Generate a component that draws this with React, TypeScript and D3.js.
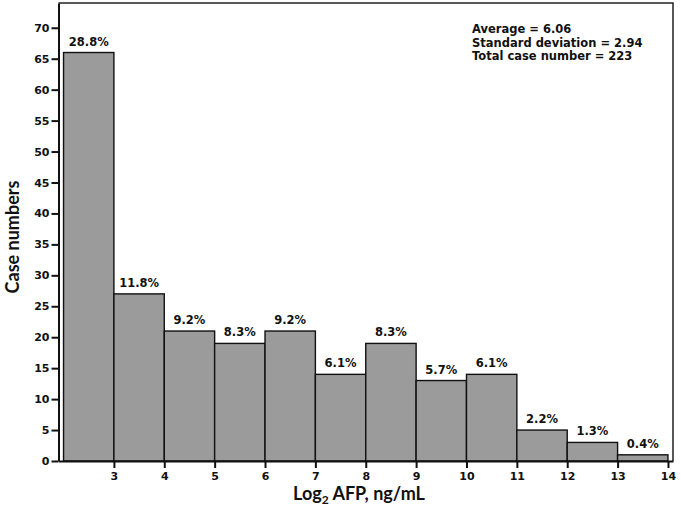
import { useEffect, useRef } from 'react';
import * as d3 from 'd3';

// bins of log2 AFP (lower edges), one unit wide
const binStarts = [2, 3, 4, 5, 6, 7, 8, 9, 10, 11, 12, 13];
const caseCounts = [66, 27, 21, 19, 21, 14, 19, 13, 14, 5, 3, 1];
const percentLabels = ['28.8%', '11.8%', '9.2%', '8.3%', '9.2%', '6.1%', '8.3%', '5.7%', '6.1%', '2.2%', '1.3%', '0.4%'];
const xTicks = [3, 4, 5, 6, 7, 8, 9, 10, 11, 12, 13, 14];
const yTicks = [0, 5, 10, 15, 20, 25, 30, 35, 40, 45, 50, 55, 60, 65, 70];
const statsLines = ['Average = 6.06', 'Standard deviation = 2.94', 'Total case number = 223'];

const WIDTH = 681;
const HEIGHT = 516;
const tickFont = '"DejaVu Sans", sans-serif';
const titleFont = 'Lato, "Open Sans", sans-serif';

export default function App() {
  const svgRef = useRef<SVGSVGElement>(null);

  useEffect(() => {
    if (!svgRef.current) return;
    const svg = d3.select(svgRef.current);
    svg.selectAll('*').remove();

    const left = 58.5, right = 673, top = 3, bottom = 461;

    const x = d3.scaleLinear().domain([1.9, 14.1]).range([left, right]);
    const y = d3.scaleLinear().domain([0, 74]).range([bottom, top]);

    const bins = binStarts.map((b, i) => ({ x0: b, x1: b + 1, count: caseCounts[i], label: percentLabels[i] }));

    // bars
    svg.append('g')
      .selectAll('rect')
      .data(bins)
      .join('rect')
      .attr('x', d => x(d.x0))
      .attr('y', d => y(d.count))
      .attr('width', d => x(d.x1) - x(d.x0))
      .attr('height', d => y(0) - y(d.count))
      .attr('fill', '#9b9b9b')
      .attr('stroke', '#111')
      .attr('stroke-width', 1.4);

    // percent labels
    svg.append('g')
      .selectAll('text')
      .data(bins)
      .join('text')
      .attr('x', d => (x(d.x0) + x(d.x1)) / 2)
      .attr('y', d => y(d.count) - 7)
      .attr('text-anchor', 'middle')
      .style('font-family', tickFont)
      .style('font-size', '11.5px')
      .style('font-weight', 'bold')
      .style('fill', '#111')
      .text(d => d.label);

    // frame (top and right)
    svg.append('path')
      .attr('d', `M${left},${top}H${right}V${bottom}`)
      .attr('fill', 'none')
      .attr('stroke', '#222')
      .attr('stroke-width', 1.5);

    // y axis
    const yAxis = svg.append('g')
      .attr('transform', `translate(${left},0)`)
      .call(d3.axisLeft(y).tickValues(yTicks).tickSize(7).tickPadding(2).tickSizeOuter(0));
    yAxis.select('.domain').attr('stroke', '#111').attr('stroke-width', 2);
    yAxis.selectAll('.tick line').attr('stroke', '#111').attr('stroke-width', 2);
    yAxis.selectAll('.tick text')
      .style('font-family', tickFont)
      .style('font-size', '11px')
      .style('font-weight', 'bold')
      .style('fill', '#111');

    // x axis
    const xAxis = svg.append('g')
      .attr('transform', `translate(0,${bottom})`)
      .call(d3.axisBottom(x).tickValues(xTicks).tickSize(7).tickPadding(4).tickSizeOuter(0));
    xAxis.select('.domain').attr('stroke', '#111').attr('stroke-width', 2);
    xAxis.selectAll('.tick line').attr('stroke', '#111').attr('stroke-width', 2);
    xAxis.selectAll('.tick text')
      .style('font-family', tickFont)
      .style('font-size', '11px')
      .style('font-weight', 'bold')
      .style('fill', '#111');

    // stats box text
    svg.append('g')
      .selectAll('text')
      .data(statsLines)
      .join('text')
      .attr('x', 472)
      .attr('y', (_, i) => 33 + i * 13.5)
      .style('font-family', tickFont)
      .style('font-size', '11.5px')
      .style('font-weight', 'bold')
      .style('fill', '#111')
      .text(d => d);

    // axis titles
    svg.append('text')
      .attr('transform', `translate(19,237) rotate(-90)`)
      .attr('text-anchor', 'middle')
      .style('font-family', titleFont)
      .style('font-size', '18px')
      .style('font-weight', 'bold')
      .style('fill', '#111')
      .text('Case numbers');

    const xTitle = svg.append('text')
      .attr('x', 359)
      .attr('y', 500)
      .attr('text-anchor', 'middle')
      .style('font-family', titleFont)
      .style('font-size', '18px')
      .style('font-weight', 'bold')
      .style('fill', '#111');
    xTitle.append('tspan').text('Log');
    xTitle.append('tspan').attr('dy', 4).style('font-size', '12px').text('2');
    xTitle.append('tspan').attr('dy', -4).text(' AFP, ng/mL');
  }, []);

  return (
    <svg
      ref={svgRef}
      width={WIDTH}
      height={HEIGHT}
      style={{ position: 'absolute', left: 0, top: 0, background: '#fff' }}
    />
  );
}
